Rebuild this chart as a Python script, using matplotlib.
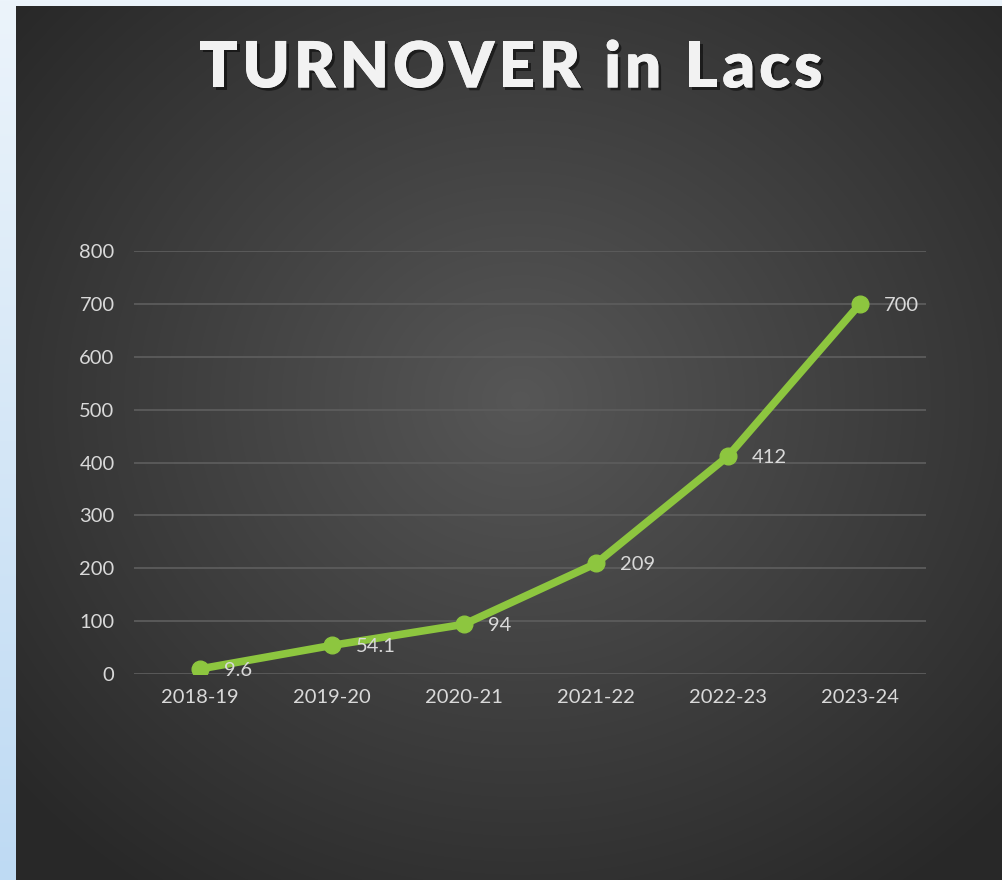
import numpy as np
import matplotlib
matplotlib.use("Agg")
import matplotlib.pyplot as plt
import matplotlib.patheffects as pe

categories = ["2018-19", "2019-20", "2020-21", "2021-22", "2022-23", "2023-24"]
turnover = [9.6, 54.1, 94, 209, 412, 700]
labels = ["9.6", "54.1", "94", "209", "412", "700"]
yticks = [0, 100, 200, 300, 400, 500, 600, 700, 800]
title = "TURNOVER in Lacs"

W, H = 1003, 880
fig = plt.figure(figsize=(W / 100, H / 100), dpi=100)

# background: light blue strip + dark radial gradient panel
bg = fig.add_axes([0, 0, 1, 1])
bg.set_axis_off()
yy, xx = np.mgrid[0:H, 0:W]
img = np.zeros((H, W, 3))
t = yy / H
top = np.array([236, 244, 251]) / 255
bot = np.array([190, 218, 243]) / 255
img[:] = (top[None, None, :] * (1 - t[..., None]) + bot[None, None, :] * t[..., None])
px0, py0 = 16, 6
cx, cy = 520, 400
r = np.sqrt(((xx - cx) / 620) ** 2 + ((yy - cy) / 560) ** 2)
g = np.clip(0.34 - 0.17 * np.clip(r, 0, 1.2), 0.16, 0.34)
mask = (xx >= px0) & (yy >= py0)
for c in range(3):
    ch = img[..., c]
    ch[mask] = g[mask]
bg.imshow(img, extent=[0, W, H, 0], aspect="auto", interpolation="bilinear")
bg.set_xlim(0, W)
bg.set_ylim(H, 0)

# plot axes
ax = fig.add_axes([134 / W, 1 - 674 / H, (926 - 134) / W, (674 - 251) / H])
ax.set_facecolor("none")
x = np.arange(len(categories))
ax.plot(x, turnover, color="#8DC63F", lw=5.5, marker="o", ms=12,
        markerfacecolor="#8DC63F", markeredgecolor="#8DC63F", solid_capstyle="round", zorder=3)
for xi, yi, lab in zip(x, turnover, labels):
    ax.annotate(lab, (xi, yi), xytext=(17, -1), textcoords="offset points",
                ha="left", va="center", color="#D9D9D9", fontsize=14.5, family="Lato", zorder=4)

ax.set_xlim(-0.5, len(categories) - 0.5)
ax.set_ylim(0, 800)
ax.set_yticks(yticks)
ax.set_xticks(x)
ax.set_xticklabels(categories)
ax.grid(axis="y", color="#5C5C5C", lw=1.3)
ax.set_axisbelow(True)
for s in ax.spines.values():
    s.set_visible(False)
ax.tick_params(length=0, colors="#D9D9D9", labelsize=14.5)
ax.tick_params(axis="x", pad=11)
ax.tick_params(axis="y", pad=14)
for lab in ax.get_xticklabels() + ax.get_yticklabels():
    lab.set_family("Lato")

# title with letter spacing, drawn char by char
fig.canvas.draw()
renderer = fig.canvas.get_renderer()
tkw = dict(color="#F2F2F2", fontsize=46, fontweight="heavy", family="Lato", va="center", ha="left",
           path_effects=[pe.withSimplePatchShadow(offset=(2, -2), shadow_rgbFace="black", alpha=0.5),
                         pe.Normal()])
spacing = 3.8
space_w = 16.0
widths = []
for ch in title:
    if ch == " ":
        widths.append(space_w)
        continue
    tmp = fig.text(0, 0, ch, **tkw)
    widths.append(tmp.get_window_extent(renderer).width)
    tmp.remove()
total = sum(widths) + spacing * (len(title) - 1)
xpos = 511 - total / 2
ty = 1 - 69 / H
for ch, w in zip(title, widths):
    if ch != " ":
        fig.text(xpos / W, ty, ch, **tkw)
    xpos += w + spacing

fig.savefig("out.png", dpi=100)
